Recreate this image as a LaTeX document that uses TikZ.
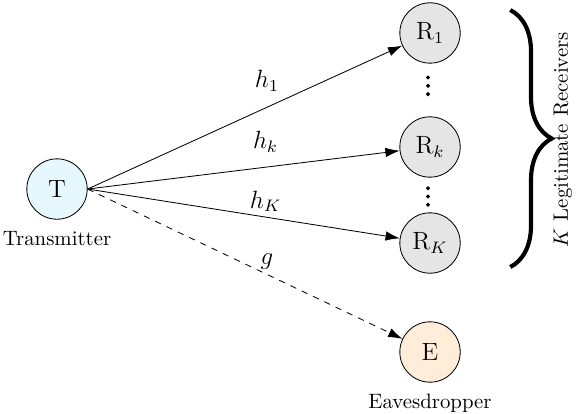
\documentclass[tikz,border=0pt]{standalone}
\usepackage{amsmath,amssymb}
\usetikzlibrary{arrows, arrows.meta, decorations.pathreplacing, calc}

\tikzset{
    user/.style={circle, draw=black, minimum size=1.02cm, inner sep=0pt, font=\large},
    link/.style={-{Latex[length=2.4mm, width=1.6mm]}, black}
}

\begin{document}
\begin{tikzpicture}
        \useasboundingbox (0, 0) rectangle (9.764, -6.993);

        % transmitter, receivers and eavesdropper
        \node[user, fill=cyan!10] (T) at (0.963, -3.193) {T};
        \node[user, fill=gray!20] (R1) at (7.264, -0.557) {R$_1$};
        \node[user, fill=gray!20] (Rk) at (7.264, -2.483) {R$_k$};
        \node[user, fill=gray!20] (RK) at (7.264, -4.105) {R$_K$};
        \node[user, fill=orange!15] (E) at (7.264, -5.946) {E};

        \node[anchor=north, yshift=-2pt] (Ttext) at (T.south) {Transmitter};
        \node[anchor=north, yshift=-2pt] (Etext) at (E.south) {Eavesdropper};

        % vertical dots between the receivers
        \foreach \y in {-1.45, -3.32} {
            \foreach \d in {-0.14, 0, 0.14} {
                \filldraw[black] (7.23, \y + \d) circle (0.75pt);
            }
        }

        % channels
        \draw[link] (T.east) -- (R1) node[anchor=south, pos=0.57, yshift=4pt] {\large$h_1$};
        \draw[link] (T.east) -- (Rk) node[anchor=south, pos=0.57, yshift=3.5pt] {\large$h_k$};
        \draw[link] (T.east) -- (RK) node[anchor=south, pos=0.57, yshift=-1pt] {\large$h_K$};
        \draw[link, dashed] (T.east) -- (E) node[anchor=south, pos=0.57, yshift=-1pt] {\large$g$};

        % group of legitimate receivers
        \coordinate (Btop) at (8.62, -0.17);
        \coordinate (Bbot) at (8.62, -4.51);
        \draw[decorate, decoration={brace, amplitude=0.7cm}, line width=2pt] (Btop) -- (Bbot);
        \node[rotate=90] (Rtext) at (9.51, -2.36) {$K$ Legitimate Receivers};

    \end{tikzpicture}
\end{document}
